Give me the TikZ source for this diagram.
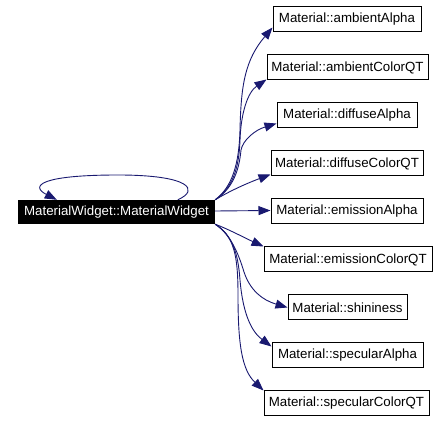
\documentclass[tikz,border=0pt]{standalone}
\usepackage{fontspec}
\setmainfont{Liberation Sans}
\usetikzlibrary{arrows.meta}
\definecolor{edgeblue}{HTML}{191970}
\begin{document}
\begin{tikzpicture}[x=1pt,y=-1pt,
  fn/.style={draw=black,line width=1pt,fill=white,minimum height=25pt,inner xsep=2pt,inner ysep=0pt,
    font=\fontsize{13.3}{16}\selectfont,text=black},
  mainbox/.style={fill=black,minimum width=197pt,minimum height=24pt,inner sep=0pt,
    font=\fontsize{13.3}{16}\selectfont,text=white},
  call/.style={draw=edgeblue,line width=0.9pt,
    -{Triangle[length=12pt,width=9pt,fill=edgeblue]}}]
\useasboundingbox (0,0) rectangle (448,422);
\node[mainbox] (main) at (116.5,212) {MaterialWidget::MaterialWidget};
\node[fn,minimum width=148pt] (n1) at (347,19.5) {Material::ambientAlpha};
\node[fn,minimum width=161pt] (n2) at (347.5,67.5) {Material::ambientColorQT};
\node[fn,minimum width=140pt] (n3) at (347,115.5) {Material::diffuseAlpha};
\node[fn,minimum width=152pt] (n4) at (347,163.5) {Material::diffuseColorQT};
\node[fn,minimum width=152pt] (n5) at (347,211.5) {Material::emissionAlpha};
\node[fn,minimum width=168pt] (n6) at (348,259.5) {Material::emissionColorQT};
\node[fn,minimum width=119pt] (n7) at (347.5,307.5) {Material::shininess};
\node[fn,minimum width=151pt] (n8) at (347.5,355.5) {Material::specularAlpha};
\node[fn,minimum width=165pt] (n9) at (346.5,403.5) {Material::specularColorQT};
% self loop
\draw[call] ([xshift=160pt]main.north west) .. controls (200,190) and (190,175) .. (118,175)
  .. controls (40,175) and (30,186) .. ([xshift=39pt]main.north west);
% upper edges
\draw[call] (main.north east) .. controls (232,187) and (239,165) .. (240,130)
  .. controls (241,85) and (245,60) .. ([yshift=5pt]n1.south west);
\draw[call] (main.north east) .. controls (232,188) and (239,170) .. (240,140)
  .. controls (241,112) and (248,92) .. ([yshift=1pt]n2.south west);
\draw[call] (main.north east) .. controls (232,189) and (239,172) .. (241,150)
  .. controls (243,140) and (255,130) .. ([yshift=5pt]n3.south west);
\draw[call] (main.north east) .. controls (228,192) and (245,184) .. ([yshift=2pt]n4.south west);
\draw[call] ([yshift=1pt]main.east) -- ([yshift=1pt]n5.west);
% lower edges
\draw[call] (main.south east) .. controls (228,229) and (245,238) .. (n6.north west);
\draw[call] (main.south east) .. controls (230,234) and (238,252) .. (244,272)
  .. controls (250,290) and (262,300) .. (n7.west);
\draw[call] (main.south east) .. controls (232,235) and (238,252) .. (240,280)
  .. controls (243,315) and (252,332) .. ([yshift=-4pt]n8.north west);
\draw[call] (main.south east) .. controls (234,236) and (238,255) .. (238,295)
  .. controls (238,345) and (242,370) .. (n9.north west);
\end{tikzpicture}
\end{document}
